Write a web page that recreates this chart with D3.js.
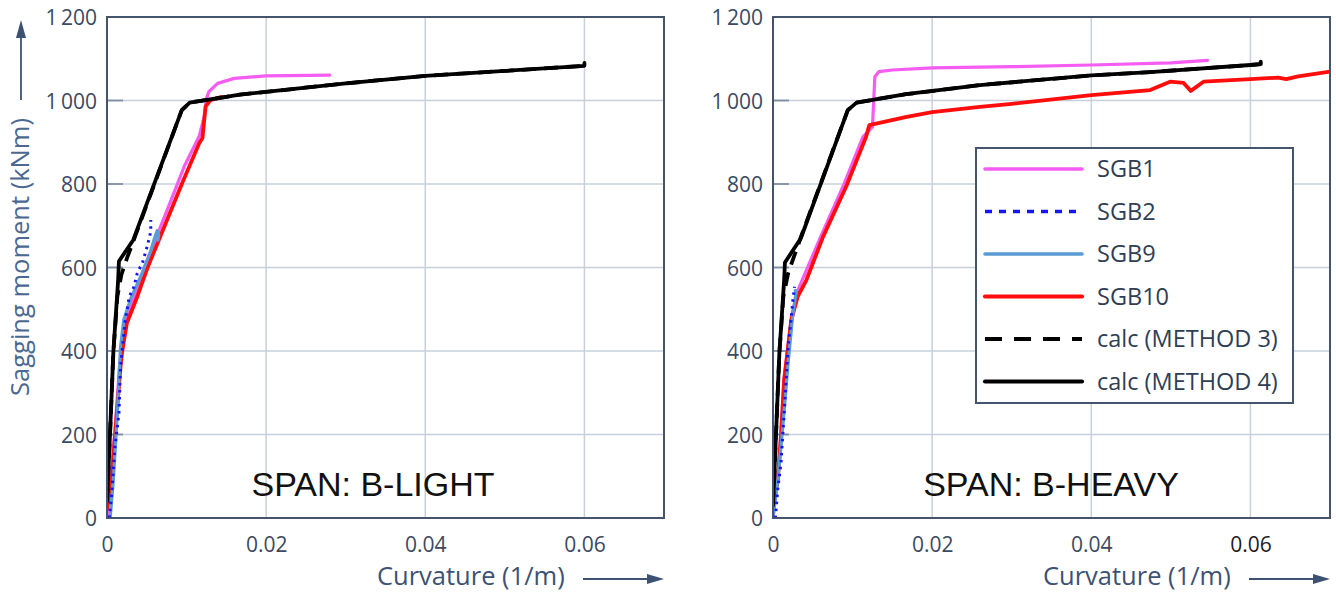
<!DOCTYPE html>
<html>
<head>
<meta charset="utf-8">
<script src="https://cdn.jsdelivr.net/npm/d3@7"></script>
<style>
  html, body { margin: 0; padding: 0; background: #fff; }
  svg { display: block; }
</style>
</head>
<body>
<svg id="chart" width="1336" height="597"></svg>
<script>
// tick values
const X_TICKS = [0, 0.02, 0.04, 0.06];
const Y_TICKS = [0, 200, 400, 600, 800, 1000, 1200];

// SPAN: B-LIGHT  [curvature 1/m, moment kNm]
const lightSGB1 = [[0,0],[0.0005,100],[0.001,210],[0.0016,370],[0.0022,460],[0.0034,530],[0.0047,600],[0.0084,778],[0.0097,842],[0.0116,915],[0.0122,960],[0.0125,1005],[0.0128,1021],[0.0139,1041],[0.016,1053],[0.02,1059],[0.028,1061]];
const lightSGB2 = [[0.0003,0],[0.0006,60],[0.001,171],[0.0015,251],[0.0017,362],[0.0023,474],[0.0028,530],[0.0034,554],[0.0038,586],[0.0045,614],[0.0051,654],[0.0055,686],[0.0055,714]];
const lightSGB9 = [[0.0004,0],[0.0008,91],[0.0013,251],[0.0017,410],[0.0021,474],[0.003,526],[0.0045,590],[0.0055,640],[0.006,672],[0.0063,688],[0.0065,680],[0.0064,665]];
const lightSGB10 = [[0,22],[0.0006,91],[0.001,195],[0.0017,362],[0.0019,398],[0.0025,467],[0.0037,525],[0.0045,568],[0.0051,600],[0.0094,800],[0.0116,898],[0.012,910],[0.0122,950],[0.0124,986],[0.013,1001],[0.0143,1008]];
const lightM3 = [[0,39],[0.0004,211],[0.0008,398],[0.0013,530],[0.0018,582],[0.0025,622],[0.0036,678],[0.0094,977],[0.0104,995],[0.0167,1014],[0.03,1041],[0.04,1059],[0.05,1071],[0.06,1083]];
const lightM4 = [[0,39],[0.0004,211],[0.0008,398],[0.0014,570],[0.0015,615],[0.0033,666],[0.0094,977],[0.0104,995],[0.0167,1014],[0.03,1041],[0.04,1059],[0.05,1071],[0.06,1083],[0.06,1090]];

// SPAN: B-HEAVY
const heavySGB1 = [[0,0],[0.0006,100],[0.001,205],[0.0014,335],[0.0019,415],[0.0023,480],[0.003,540],[0.006,674],[0.0088,794],[0.0113,913],[0.0125,937],[0.0128,1057],[0.0133,1069],[0.015,1073],[0.02,1078],[0.03,1081],[0.04,1085],[0.05,1090],[0.0546,1096]];
const heavySGB2 = [[0.0003,0],[0.0006,70],[0.001,131],[0.0014,251],[0.0019,410],[0.0023,480],[0.0025,522],[0.0027,554]];
const heavySGB9 = [[0,0],[0.0006,91],[0.0012,211],[0.0019,371],[0.0025,490],[0.0029,538],[0.0028,545]];
const heavySGB10 = [[0,27],[0.0006,91],[0.001,195],[0.0014,330],[0.0019,410],[0.0023,474],[0.0031,530],[0.0042,570],[0.0063,674],[0.0092,794],[0.0117,913],[0.0121,941],[0.0168,961],[0.02,972],[0.026,985],[0.03,992],[0.04,1013],[0.0474,1025],[0.0499,1045],[0.0516,1042],[0.0525,1023],[0.0541,1045],[0.06,1051],[0.0635,1055],[0.0645,1051],[0.066,1058],[0.07,1069]];
const heavyM3 = [[0,30],[0.0004,211],[0.0008,395],[0.0013,530],[0.0019,586],[0.0026,624],[0.0036,678],[0.0094,977],[0.0105,995],[0.0167,1015],[0.026,1037],[0.04,1060],[0.0474,1068],[0.06,1085],[0.0613,1087]];
const heavyM4 = [[0,30],[0.0004,211],[0.0008,395],[0.0014,570],[0.0015,612],[0.0035,670],[0.0094,977],[0.0105,995],[0.0167,1015],[0.026,1037],[0.04,1060],[0.0474,1068],[0.06,1085],[0.0613,1087],[0.0613,1093]];

const LEGEND_NAMES = ['SGB1', 'SGB2', 'SGB9', 'SGB10', 'calc (METHOD 3)', 'calc (METHOD 4)'];

// line styles, same order as legend
const STYLES = [
  { color: '#f55cf2', width: 3.2, dash: null },
  { color: '#1515f5', width: 3, dash: '2.5,4.5', legendDash: '7,7' },
  { color: '#5b9bd5', width: 3.2, dash: null },
  { color: '#ff0d0d', width: 3.8, dash: null },
  { color: '#000', width: 3.8, dash: '14,8', legendDash: '17,12' },
  { color: '#000', width: 3.8, dash: null }
];
const DRAW_ORDER = [0, 3, 2, 1, 4, 5];

const svg = d3.select('#chart');
const FONT = '"Open Sans", "Noto Sans", sans-serif';
const TICK_COLOR = '#3a4a60';
const FRAME_COLOR = '#44546a';

function drawPanel(left, series, spanLabel, opts) {
  const top = 17, width = 557, height = 501;
  const x = d3.scaleLinear().domain([0, 0.07]).range([0, width]);
  const y = d3.scaleLinear().domain([0, 1200]).range([height, 0]);

  const g = svg.append('g').attr('transform', `translate(${left},${top})`);
  const clipId = 'clip' + left;
  g.append('clipPath').attr('id', clipId)
    .append('rect').attr('width', width).attr('height', height);

  // grid
  g.selectAll('.vgrid').data(X_TICKS.slice(1)).enter().append('line')
    .attr('x1', d => x(d)).attr('x2', d => x(d))
    .attr('y1', 0).attr('y2', height)
    .attr('stroke', '#c6d0dc').attr('stroke-width', 1.5);
  g.selectAll('.hgrid').data(Y_TICKS.slice(1, -1)).enter().append('line')
    .attr('x1', 0).attr('x2', width)
    .attr('y1', d => y(d)).attr('y2', d => y(d))
    .attr('stroke', '#c6d0dc').attr('stroke-width', 1.5);
  // short inner ticks on the y axis
  g.selectAll('.ytk').data(Y_TICKS.slice(1, -1)).enter().append('line')
    .attr('x1', 0).attr('x2', 16)
    .attr('y1', d => y(d)).attr('y2', d => y(d))
    .attr('stroke', '#7d8ea5').attr('stroke-width', 1.8);

  // axes labels through d3 axes
  const yAxis = g.append('g')
    .call(d3.axisLeft(y).tickValues(Y_TICKS).tickSize(0).tickPadding(10)
      .tickFormat(d => d3.format(',')(d).replace(',', '\u2009')));
  const xAxis = g.append('g').attr('transform', `translate(0,${height})`)
    .call(d3.axisBottom(x).tickValues(X_TICKS).tickSize(0).tickPadding(19)
      .tickFormat(d => d === 0 ? '0' : d3.format('.2f')(d)));
  [yAxis, xAxis].forEach(a => {
    a.select('.domain').remove();
    a.selectAll('text').attr('font-family', FONT).attr('font-size', 21)
      .attr('fill', TICK_COLOR);
  });
  yAxis.selectAll('text').attr('dy', '0.38em');
  if (opts.darkLastX) {
    xAxis.selectAll('text').filter(d => d === 0.06).attr('fill', '#1c1c1c');
  }

  // curves
  const line = d3.line().x(d => x(d[0])).y(d => y(d[1])).curve(d3.curveLinear);
  const curves = g.append('g').attr('clip-path', `url(#${clipId})`);
  DRAW_ORDER.forEach(i => {
    const st = STYLES[i];
    curves.append('path')
      .datum(series[i])
      .attr('d', line)
      .attr('fill', 'none')
      .attr('stroke', st.color)
      .attr('stroke-width', st.width)
      .attr('stroke-linejoin', 'round')
      .attr('stroke-linecap', st.dash ? 'butt' : 'round')
      .attr('stroke-dasharray', st.dash);
  });

  // frame
  g.append('rect').attr('width', width).attr('height', height)
    .attr('fill', 'none').attr('stroke', FRAME_COLOR).attr('stroke-width', 2);

  // span label
  g.append('text')
    .attr('x', opts.spanX - left).attr('y', 479)
    .attr('text-anchor', 'middle')
    .attr('font-family', '"Liberation Sans", Arial, sans-serif')
    .attr('font-size', 34).attr('fill', '#111')
    .text(spanLabel);

  // x title + arrow
  g.append('text')
    .attr('x', 270).attr('y', 568)
    .attr('font-family', FONT).attr('font-size', 25.5).attr('fill', '#3d5272')
    .text('Curvature (1/m)');
  g.append('line').attr('x1', 476).attr('x2', 545).attr('y1', 562).attr('y2', 562)
    .attr('stroke', '#3d5272').attr('stroke-width', 1.8);
  g.append('path').attr('d', 'M540,557 L557,562 L540,567 Z').attr('fill', '#3d5272');

  return { g, x, y };
}

const light = drawPanel(107, [lightSGB1, lightSGB2, lightSGB9, lightSGB10, lightM3, lightM4], 'SPAN: B-LIGHT', { spanX: 373 });
const heavy = drawPanel(773, [heavySGB1, heavySGB2, heavySGB9, heavySGB10, heavyM3, heavyM4], 'SPAN: B-HEAVY', { spanX: 1051, darkLastX: true });

// y title, left panel only
svg.append('text')
  .attr('transform', 'translate(29,257) rotate(-90)')
  .attr('text-anchor', 'middle')
  .attr('font-family', FONT).attr('font-size', 25.5).attr('fill', '#4a6890')
  .text('Sagging moment (kNm)');
svg.append('line').attr('x1', 21).attr('x2', 21).attr('y1', 100).attr('y2', 34)
  .attr('stroke', '#3d5272').attr('stroke-width', 1.8);
svg.append('path').attr('d', 'M16,38 L21,20 L26,38 Z').attr('fill', '#3d5272');

// legend in the heavy panel
const leg = svg.append('g').attr('transform', 'translate(976,148)');
leg.append('rect').attr('width', 317).attr('height', 255)
  .attr('fill', '#fff').attr('stroke', FRAME_COLOR).attr('stroke-width', 2);
LEGEND_NAMES.forEach((name, i) => {
  const st = STYLES[i];
  const yy = 21 + i * 42.5;
  leg.append('line').attr('x1', 9).attr('x2', 106).attr('y1', yy).attr('y2', yy)
    .attr('stroke', st.color).attr('stroke-width', st.width + 0.4)
    .attr('stroke-linecap', st.dash ? 'butt' : 'round')
    .attr('stroke-dasharray', st.legendDash || null);
  leg.append('text').attr('x', 121).attr('y', yy).attr('dy', '0.36em')
    .attr('font-family', FONT).attr('font-size', 23.5).attr('fill', '#2f3e55')
    .text(name);
});
</script>
</body>
</html>
